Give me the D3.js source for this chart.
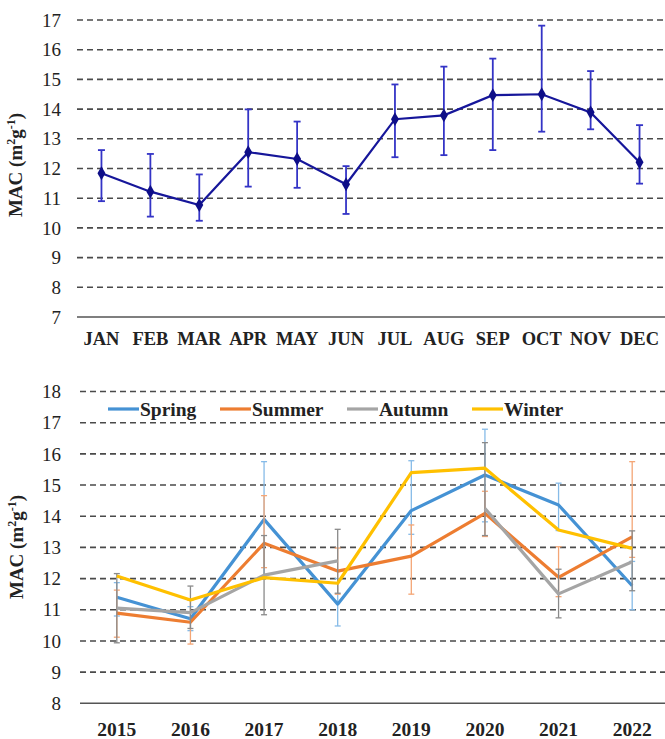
<!DOCTYPE html>
<html>
<head>
<meta charset="utf-8">
<script src="https://cdn.jsdelivr.net/npm/d3@7"></script>
<style>
  body { margin: 0; background: #fff; }
  svg { display: block; }
  text { font-family: "Liberation Serif", "DejaVu Serif", serif; }
</style>
</head>
<body>
<svg width="665" height="739"></svg>
<script>
// monthly MAC (top panel)
const months = ['JAN', 'FEB', 'MAR', 'APR', 'MAY', 'JUN', 'JUL', 'AUG', 'SEP', 'OCT', 'NOV', 'DEC'];
const monthMac = [11.84, 11.22, 10.77, 12.55, 12.32, 11.47, 13.66, 13.79, 14.47, 14.50, 13.89, 12.21];
const monthLo  = [10.90, 10.38, 10.24, 11.39, 11.35, 10.47, 12.38, 12.45, 12.62, 13.24, 13.32, 11.49];
const monthHi  = [12.62, 12.49, 11.80, 13.99, 13.58, 12.08, 14.83, 15.43, 15.70, 16.81, 15.28, 13.46];
const topTicks = [7, 8, 9, 10, 11, 12, 13, 14, 15, 16, 17];

// seasonal MAC by year (bottom panel)
const years = ['2015', '2016', '2017', '2018', '2019', '2020', '2021', '2022'];
const spring   = [11.40, 10.71, 13.90, 11.18, 14.18, 15.32, 14.36, 11.77];
const springLo = [10.80, 10.33, 12.05, 10.48, 13.42, 13.82, 13.54, 11.00];
const springHi = [11.87, 11.10, 15.75, 12.00, 15.78, 16.79, 15.06, 12.55];
const summer   = [10.89, 10.60, 13.13, 12.24, 12.72, 14.09, 12.04, 13.34];
const summerLo = [10.12, 9.90, 12.35, 11.50, 11.50, 13.35, 11.42, 12.68];
const summerHi = [11.63, 11.30, 14.66, 12.98, 13.72, 14.80, 13.02, 15.75];
const autumn   = [11.05, 10.91, 12.11, 12.57, null, 14.25, 11.51, 12.54];
const autumnLo = [9.94, 10.40, 10.84, 11.53, null, 13.38, 10.74, 11.61];
const autumnHi = [12.16, 11.76, 13.38, 13.58, null, 16.36, 12.30, 13.53];
const winter   = [12.08, 11.31, 12.03, 11.85, 15.40, 15.54, 13.56, 12.97];
const seasons = ['Spring', 'Summer', 'Autumn', 'Winter'];
const bottomTicks = [8, 9, 10, 11, 12, 13, 14, 15, 16, 17, 18];

const svg = d3.select('svg')
  .attr('font-family', '"Liberation Serif", "DejaVu Serif", serif');

// shared bits: dashed grid, solid base line, tick numbers, rotated title
function drawFrame(g, y, ticks, x0, x1, titleX, titleY) {
  const base = ticks[0];
  g.selectAll('.grid')
    .data(ticks.slice(1))
    .join('line')
    .attr('class', 'grid')
    .attr('x1', x0).attr('x2', x1)
    .attr('y1', d => y(d)).attr('y2', d => y(d))
    .attr('stroke', '#4a4a4a')
    .attr('stroke-width', 1.6)
    .attr('stroke-dasharray', '6,4');

  g.append('line')
    .attr('x1', x0).attr('x2', x1)
    .attr('y1', y(base)).attr('y2', y(base))
    .attr('stroke', '#555')
    .attr('stroke-width', 1.6);

  g.selectAll('.tick-num')
    .data(ticks)
    .join('text')
    .attr('class', 'tick-num')
    .attr('x', 61)
    .attr('y', d => y(d))
    .attr('dy', '0.35em')
    .attr('text-anchor', 'end')
    .attr('font-size', 19)
    .attr('fill', '#222')
    .text(d => d);

  const t = g.append('text')
    .attr('transform', `translate(${titleX},${titleY}) rotate(-90)`)
    .attr('text-anchor', 'middle')
    .attr('font-size', 19)
    .attr('font-weight', 'bold')
    .attr('fill', '#222');
  t.append('tspan').text('MAC (m');
  t.append('tspan').attr('dy', -7).attr('font-size', 12).text('2');
  t.append('tspan').attr('dy', 7).text('g');
  t.append('tspan').attr('dy', -7).attr('font-size', 12).text('-1');
  t.append('tspan').attr('dy', 7).text(')');
}

function errorBars(g, x, y, cats, lo, hi, color, width, cap) {
  const idx = cats.map((c, i) => i).filter(i => lo[i] != null);
  const eb = g.append('g');
  eb.selectAll('.stem').data(idx).join('line')
    .attr('x1', i => x(cats[i])).attr('x2', i => x(cats[i]))
    .attr('y1', i => y(lo[i])).attr('y2', i => y(hi[i]));
  eb.selectAll('.capHi').data(idx).join('line')
    .attr('x1', i => x(cats[i]) - cap).attr('x2', i => x(cats[i]) + cap)
    .attr('y1', i => y(hi[i])).attr('y2', i => y(hi[i]));
  eb.selectAll('.capLo').data(idx).join('line')
    .attr('x1', i => x(cats[i]) - cap).attr('x2', i => x(cats[i]) + cap)
    .attr('y1', i => y(lo[i])).attr('y2', i => y(lo[i]));
  eb.attr('stroke', color).attr('stroke-width', width);
}

// ---------- top panel ----------
const topPanel = svg.append('g');
const xTop = d3.scalePoint().domain(months).range([77, 664]).padding(0.5);
const yTop = d3.scaleLinear().domain([7, 17]).range([317, 20]);

drawFrame(topPanel, yTop, topTicks, 77, 665, 22, 165);

topPanel.selectAll('.month')
  .data(months)
  .join('text')
  .attr('x', d => xTop(d))
  .attr('y', 345)
  .attr('text-anchor', 'middle')
  .attr('font-size', 18.5)
  .attr('font-weight', 'bold')
  .attr('fill', '#222')
  .text(d => d);

errorBars(topPanel, xTop, yTop, months, monthLo, monthHi, '#3434c6', 1.8, 3.5);

topPanel.append('path')
  .datum(monthMac)
  .attr('fill', 'none')
  .attr('stroke', '#16169a')
  .attr('stroke-width', 2.2)
  .attr('d', d3.line().x((d, i) => xTop(months[i])).y(d => yTop(d)));

topPanel.selectAll('.pt')
  .data(monthMac)
  .join('path')
  .attr('transform', (d, i) => `translate(${xTop(months[i])},${yTop(d)})`)
  .attr('d', d3.symbol(d3.symbolDiamond, 55))
  .attr('fill', '#0e0e88');

// ---------- bottom panel ----------
const bottomPanel = svg.append('g');
const xBot = d3.scalePoint().domain(years).range([80, 669]).padding(0.5);
const yBot = d3.scaleLinear().domain([8, 18]).range([703.3, 391.5]);

drawFrame(bottomPanel, yBot, bottomTicks, 80, 665, 23, 547);

bottomPanel.selectAll('.year')
  .data(years)
  .join('text')
  .attr('x', d => xBot(d))
  .attr('y', 736)
  .attr('text-anchor', 'middle')
  .attr('font-size', 19.5)
  .attr('font-weight', 'bold')
  .attr('fill', '#222')
  .text(d => d);

const series = [
  { name: seasons[0], vals: spring, lo: springLo, hi: springHi, color: '#4592d4', bar: '#86bbe8' },
  { name: seasons[1], vals: summer, lo: summerLo, hi: summerHi, color: '#ed7d31', bar: '#f4a676' },
  { name: seasons[2], vals: autumn, lo: autumnLo, hi: autumnHi, color: '#a5a5a5', bar: '#8a8a8a' },
  { name: seasons[3], vals: winter, lo: null, hi: null, color: '#ffc000', bar: null }
];

const seasonLine = d3.line()
  .defined(d => d != null)
  .x((d, i) => xBot(years[i]))
  .y(d => yBot(d));

series.forEach(s => {
  if (s.lo) errorBars(bottomPanel, xBot, yBot, years, s.lo, s.hi, s.bar, 1.3, 3);
  bottomPanel.append('path')
    .datum(s.vals)
    .attr('fill', 'none')
    .attr('stroke', s.color)
    .attr('stroke-width', 3.2)
    .attr('stroke-linejoin', 'round')
    .attr('d', seasonLine);
});

// legend
const legendX = [108, 220, 347, 472];
const legend = bottomPanel.selectAll('.leg')
  .data(series)
  .join('g')
  .attr('transform', (d, i) => `translate(${legendX[i]},409)`);
legend.append('line')
  .attr('x1', 0).attr('x2', 31)
  .attr('stroke', d => d.color)
  .attr('stroke-width', 3.2);
legend.append('text')
  .attr('x', 32)
  .attr('y', 7)
  .attr('font-size', 19.5)
  .attr('font-weight', 'bold')
  .attr('fill', '#222')
  .text(d => d.name);
</script>
</body>
</html>
